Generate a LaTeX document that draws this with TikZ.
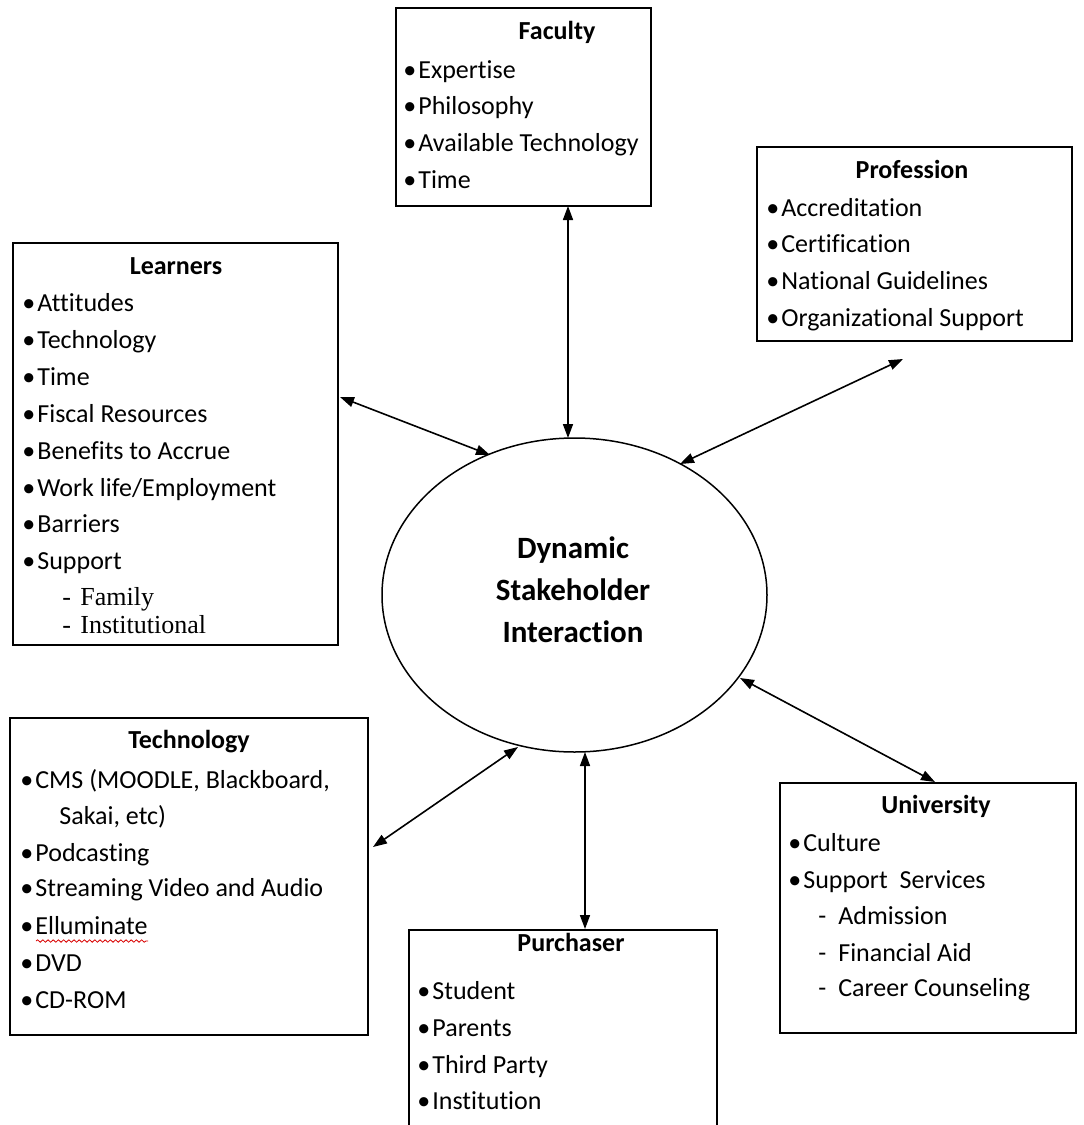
\documentclass[tikz,border=0pt]{standalone}
\usepackage{fontspec}
\setmainfont{Carlito}[Ligatures={NoCommon,NoContextual}]
\newfontfamily\serifb{Liberation Serif}
\usetikzlibrary{fit,shapes.geometric,arrows.meta,decorations.pathmorphing}
\newcommand{\bul}{\makebox[7.5pt][l]{•}}
\begin{document}
\begin{tikzpicture}[x=0.5pt,y=-0.5pt,
  box/.style={draw, line width=1pt, inner sep=0pt},
  itm/.style={anchor=west, inner sep=0pt, font=\fontsize{13}{15}\selectfont, text height=9pt, text depth=2.5pt},
  ttl/.style={anchor=center, inner sep=0pt, font=\fontsize{13}{15}\selectfont\bfseries, text height=9pt, text depth=2.5pt},
  arr/.style={line width=0.8pt, {Triangle[length=7pt,width=5pt]}-{Triangle[length=7pt,width=5pt]}}]
\useasboundingbox (0,0) rectangle (1083,1125);
\fill[white] (0,0) rectangle (1083,1125);
\clip (0,0) rectangle (1083,1125);

% boxes
\node[box, fit={(396,8) (651,206)}] (fac) {};
\node[box, fit={(757,147) (1072,341)}] (pro) {};
\node[box, fit={(13,243) (338,645)}] (lrn) {};
\node[box, fit={(10,718) (368,1035)}] (tec) {};
\node[box, fit={(409,930) (717,1160)}] (pur) {};
\node[box, fit={(780,783) (1076,1033)}] (uni) {};
\node[draw, ellipse, line width=0.75pt, inner sep=0pt, minimum width=192.5pt, minimum height=157pt] (dsi) at (574.5,595) {};

% centre text
\node[inner sep=0pt, align=center, font=\fontsize{15.5}{21}\selectfont\bfseries] (dsit) at (573,590) {Dynamic\\Stakeholder\\Interaction};

% Faculty
\node[ttl] (facT) at (557,33) {Faculty};
\node[itm] (fac1) at (403,72) {\bul Expertise};
\node[itm] (fac2) at (403,108) {\bul Philosophy};
\node[itm] (fac3) at (403,145) {\bul Available Technology};
\node[itm] (fac4) at (403,182) {\bul Time};

% Profession
\node[ttl] (proT) at (912,172) {Profession};
\node[itm] (pro1) at (766,210) {\bul Accreditation};
\node[itm] (pro2) at (766,246) {\bul Certification};
\node[itm] (pro3) at (766,283) {\bul National Guidelines};
\node[itm] (pro4) at (766,320) {\bul Organizational Support};

% Learners
\node[ttl] (lrnT) at (176,268) {Learners};
\node[itm] (lrn1) at (22,305) {\bul Attitudes};
\node[itm] (lrn2) at (22,342) {\bul Technology};
\node[itm] (lrn3) at (22,379) {\bul Time};
\node[itm] (lrn4) at (22,416) {\bul Fiscal Resources};
\node[itm] (lrn5) at (22,453) {\bul Benefits to Accrue};
\node[itm] (lrn6) at (22,490) {\bul Work life/Employment};
\node[itm] (lrn7) at (22,526) {\bul Barriers};
\node[itm] (lrn8) at (22,563) {\bul Support};
\node[itm, font=\fontsize{13}{15}\selectfont\serifb] (lrn9) at (62,599) {-\hspace{4.7pt}Family};
\node[itm, font=\fontsize{13}{15}\selectfont\serifb] (lrn10) at (62,627) {-\hspace{4.7pt}Institutional};

% Technology
\node[ttl] (tecT) at (189,742) {Technology};
\node[itm] (tec1) at (20,782) {\bul CMS (MOODLE, Blackboard,};
\node[itm] (tec1b) at (59,818) {Sakai, etc)};
\node[itm] (tec2) at (20,855) {\bul Podcasting};
\node[itm] (tec3) at (20,890) {\bul Streaming Video and Audio};
\node[itm] (tec4) at (20,928) {\bul Elluminate};
\node[itm] (tec5) at (20,965) {\bul DVD};
\node[itm] (tec6) at (20,1002) {\bul CD-ROM};
\draw[red!85!black, line width=0.4pt, decorate, decoration={snake, amplitude=0.6pt, segment length=2.6pt}] (36,941) -- (148,941);

% Purchaser
\node[ttl] (purT) at (571,945) {Purchaser};
\node[itm] (pur1) at (417,993) {\bul Student};
\node[itm] (pur2) at (417,1030) {\bul Parents};
\node[itm] (pur3) at (417,1067) {\bul Third Party};
\node[itm] (pur4) at (417,1103) {\bul Institution};

% University
\node[ttl] (uniT) at (936,807) {University};
\node[itm] (uni1) at (788,845) {\bul Culture};
\node[itm] (uni2) at (788,882) {\bul Support\hspace{3pt} Services};
\node[itm] (uni3) at (818,918) {-\hspace{6pt}Admission};
\node[itm] (uni4) at (818,955) {-\hspace{6pt}Financial Aid};
\node[itm] (uni5) at (818,990) {-\hspace{6pt}Career Counseling};

% connector end points
\coordinate (facA) at (568,206);   \coordinate (facE) at (568,438);
\coordinate (lrnA) at (340,397);   \coordinate (lrnE) at (490,455);
\coordinate (proA) at (903,359);   \coordinate (proE) at (680,464);
\coordinate (uniA) at (935,782);   \coordinate (uniE) at (740,678);
\coordinate (purA) at (585,929);   \coordinate (purE) at (585,752);
\coordinate (tecA) at (373,847);   \coordinate (tecE) at (518,747);

\draw[arr] (facA) -- (facE);
\draw[arr] (lrnA) -- (lrnE);
\draw[arr] (proA) -- (proE);
\draw[arr] (uniA) -- (uniE);
\draw[arr] (purA) -- (purE);
\draw[arr] (tecA) -- (tecE);
\end{tikzpicture}
\end{document}
